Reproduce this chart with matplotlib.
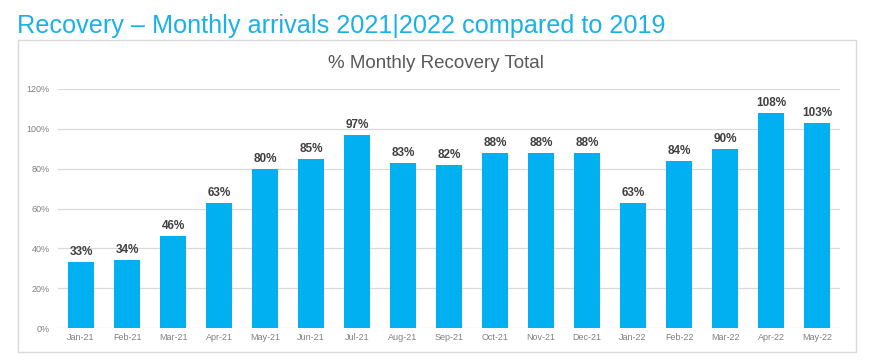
import matplotlib.pyplot as plt
from matplotlib.patches import Rectangle
from matplotlib.ticker import FuncFormatter

months = ["Jan-21", "Feb-21", "Mar-21", "Apr-21", "May-21", "Jun-21", "Jul-21",
          "Aug-21", "Sep-21", "Oct-21", "Nov-21", "Dec-21", "Jan-22", "Feb-22",
          "Mar-22", "Apr-22", "May-22"]
recovery = [33, 34, 46, 63, 80, 85, 97, 83, 82, 88, 88, 88, 63, 84, 90, 108, 103]
y_ticks = [0, 20, 40, 60, 80, 100, 120]

plt.rcParams['font.family'] = ['Liberation Sans Narrow', 'Liberation Sans', 'DejaVu Sans']

fig = plt.figure(figsize=(8.82, 3.64), dpi=100)

# chart frame
fig.patches.append(Rectangle((18 / 882, 1 - 352 / 364), 838 / 882, 312 / 364,
                             transform=fig.transFigure, fill=False,
                             edgecolor="#d9d9d9", linewidth=1))

fig.text(17 / 882, 1 - 33 / 364, "Recovery – Monthly arrivals 2021|2022 compared to 2019",
         color="#1ab0e8", fontsize=18.15, va="baseline", ha="left")
fig.text(436 / 882, 1 - 68 / 364, "% Monthly Recovery Total",
         color="#595959", fontsize=13.5, va="baseline", ha="center")

ax = fig.add_axes([58 / 882, 1 - 328 / 364, 782 / 882, 239 / 364])
x = range(len(months))
bars = ax.bar(x, recovery, width=0.55, color="#00b0f0", zorder=3)
for b, v in zip(bars, recovery):
    ax.text(b.get_x() + b.get_width() / 2, v + 2, f"{v}%", ha="center", va="bottom",
            fontsize=8.5, color="#404040", fontweight="bold")

ax.set_xlim(-0.5, len(months) - 0.5)
ax.set_ylim(0, 120)
ax.set_yticks(y_ticks)
ax.yaxis.set_major_formatter(FuncFormatter(lambda v, p: f"{v:.0f}%"))
ax.set_xticks(list(x))
ax.set_xticklabels(months)
ax.grid(axis="y", color="#d9d9d9", linewidth=0.9, zorder=0)
for s in ax.spines.values():
    s.set_visible(False)
ax.tick_params(axis="both", length=0, colors="#808080", labelsize=6.5)
ax.tick_params(axis="y", pad=6, labelsize=6.5)

fig.savefig("out.png", dpi=100)
